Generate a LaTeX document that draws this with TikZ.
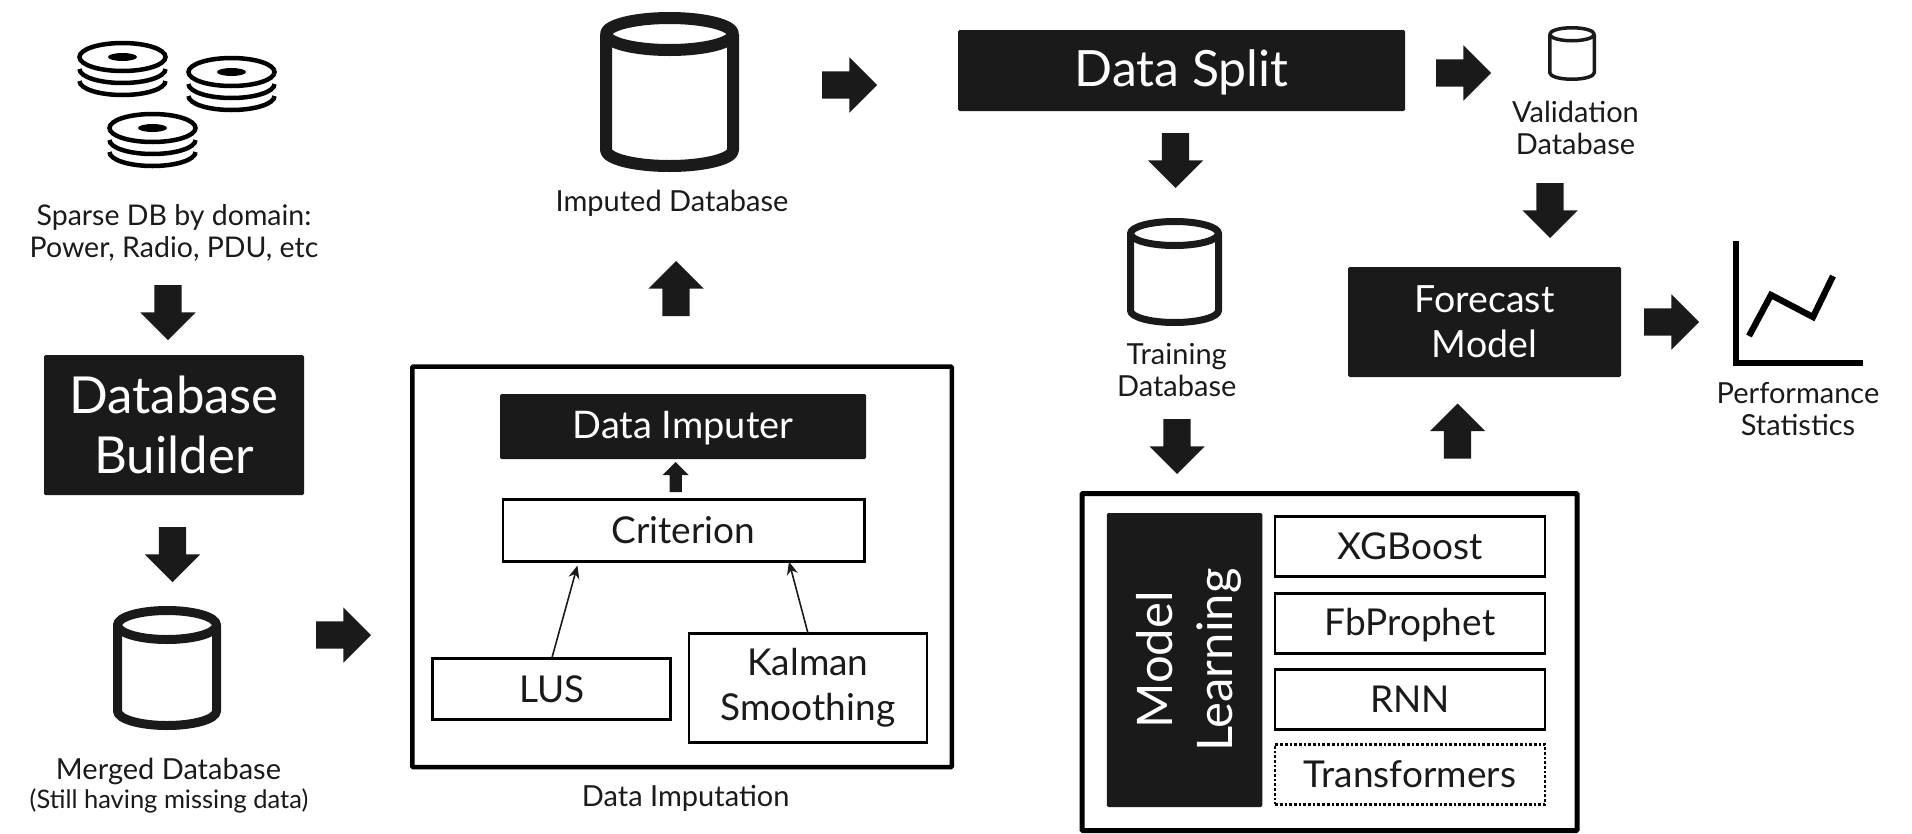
\documentclass[tikz,border=0pt]{standalone}
\usepackage{fontspec}
\setmainfont{Lato}
\usetikzlibrary{positioning, shapes.arrows, arrows.meta}

\definecolor{inkDark}{HTML}{1A1A1A}

% cylinder: centre x, top y, width, height, line width, ellipse radius
\newcommand{\dbCyl}[6]{
    \pgfmathsetmacro{\cylL}{#1-#3/2+#5/2}
    \pgfmathsetmacro{\cylR}{#1+#3/2-#5/2}
    \pgfmathsetmacro{\cylT}{#2+#5/2+#6}
    \pgfmathsetmacro{\cylB}{#2+#4-#5/2-#6}
    \pgfmathsetmacro{\cylX}{#3/2-#5/2}
    \draw[line width=#5pt, inkDark, line join=round] (#1,\cylT) ellipse[x radius=\cylX pt, y radius=#6pt];
    \draw[line width=#5pt, inkDark, line join=round] (\cylL,\cylT) -- (\cylL,\cylB)
        arc[start angle=180, end angle=360, x radius=\cylX pt, y radius=#6pt] -- (\cylR,\cylT);
}

\begin{document}
\begin{tikzpicture}[
    x=1pt, y=-1pt,
    blackBox/.style={fill=inkDark, text=white, align=center, inner sep=0pt, outer sep=0pt, rounded corners=1.5pt},
    whiteBox/.style={draw=black, line width=2.7pt, text=inkDark, align=center, inner sep=0pt, outer sep=0pt, font=\fontsize{37}{45}\selectfont},
    frameBox/.style={draw=black, line width=4.5pt, rounded corners=1pt, inner sep=0pt, outer sep=0pt},
    labelText/.style={text=inkDark, align=center, inner sep=0pt, font=\fontsize{29}{32}\selectfont},
    blockArrow/.style={single arrow, fill=inkDark, inner xsep=0pt, inner ysep=13.5pt, outer sep=0pt,
        single arrow head extend=14pt, single arrow tip angle=90, single arrow head indent=0pt,
        minimum height=55pt, anchor=tail},
    smallArrow/.style={single arrow, fill=inkDark, inner xsep=0pt, inner ysep=6pt, outer sep=0pt,
        single arrow head extend=7pt, single arrow tip angle=90, single arrow head indent=0pt,
        minimum height=30pt, anchor=tail},
    thinLine/.style={line width=1.6pt, inkDark, -{Stealth[length=13pt, width=11pt]}},
    diskStack/.pic={
        \draw[line width=4.5pt] (0,0) ellipse[x radius=43pt, y radius=14pt];
        \fill (0,0) ellipse[x radius=14.5pt, y radius=4pt];
        \draw[line width=4.5pt] (-43,0) ++(0,12) arc[start angle=180, end angle=360, x radius=43pt, y radius=14pt];
        \draw[line width=4.5pt] (-43,0) ++(0,24) arc[start angle=180, end angle=360, x radius=43pt, y radius=14pt];
    },
]
    \useasboundingbox (0,0) rectangle (1912,833);

    % 1. left column
    \pic at (122.5,57) {diskStack};
    \pic at (231.5,72) {diskStack};
    \pic at (152.5,128) {diskStack};
    \node[labelText, font=\fontsize{28.5}{32}\selectfont] (sparseLbl) at (174,233) {Sparse DB by domain:\\Power, Radio, PDU, etc};
    \node[blockArrow, rotate=-90] (arrSparse) at (168,285) {};
    \node[blackBox, minimum width=260pt, minimum height=140pt, font=\fontsize{51}{60}\selectfont] (dbBuilder) at (174,425) {Database\\Builder};
    \node[blockArrow, rotate=-90] (arrBuilder) at (172.5,527) {};
    \dbCyl{167}{606}{108}{124}{9}{14.5}
    \node[labelText] (mergedLbl) at (168.5,771) {Merged Database};
    \node[labelText, font=\fontsize{25.5}{28}\selectfont] (mergedSub) at (169,801) {(Still having missing data)};
    \node[blockArrow] (arrMerged) at (316,635) {};

    % 2. imputation block
    \node[frameBox, minimum width=539.5pt, minimum height=400.5pt] (impFrame) at (682,566.9) {};
    \node[blackBox, minimum width=366pt, minimum height=65pt, text height=27pt, text depth=3pt, font=\fontsize{38}{45}\selectfont] (imputer) at (683,426.5) {Data Imputer};
    \node[whiteBox, minimum width=361.3pt, minimum height=62.3pt] (criterion) at (683.5,530.5) {Criterion};
    \node[whiteBox, minimum width=238pt, minimum height=61.3pt] (lus) at (551.8,689) {LUS};
    \node[whiteBox, minimum width=238pt, minimum height=109.3pt] (kalman) at (808,688) {Kalman\\Smoothing};
    \node[smallArrow, rotate=90] (arrCrit) at (675.7,492) {};
    \draw[thinLine, shorten >=4pt] (lus.north) -- ([xshift=-105pt]criterion.south);
    \draw[thinLine] (kalman.north) -- ([xshift=105.5pt]criterion.south);
    \node[labelText] (impLbl) at (685.7,798) {Data Imputation};
    \node[blockArrow, rotate=90] (arrImp) at (676,316) {};

    % 3. imputed database and split
    \dbCyl{669.5}{12}{139}{160}{12}{16}
    \node[labelText] (imputedLbl) at (672,203) {Imputed Database};
    \node[blockArrow] (arrImputed) at (822,85) {};
    \node[blackBox, minimum width=447pt, minimum height=81pt, text height=36pt, text depth=4pt, font=\fontsize{50}{60}\selectfont] (dataSplit) at (1181.5,70.5) {Data Split};
    \node[blockArrow] (arrSplit) at (1436,73) {};
    \node[blockArrow, rotate=-90] (arrTrain) at (1175.5,133) {};
    \dbCyl{1174.5}{218}{95}{108}{7}{12}
    \node[labelText] (trainLbl) at (1176.7,370) {Training\\Database};
    \node[blockArrow, rotate=-90] (arrLearn) at (1177,419) {};

    % 4. model learning block
    \node[frameBox, line width=5pt, minimum width=495pt, minimum height=337pt] (mlFrame) at (1329.5,662) {};
    \node[blackBox, minimum width=155.5pt, minimum height=294pt] (mlBlack) at (1184.7,660) {};
    \node[text=white, align=center, inner sep=0pt, rotate=90, font=\fontsize{49}{60}\selectfont] (mlText) at ([xshift=4pt]mlBlack.center) {Model\\Learning};
    \node[whiteBox, minimum width=269.8pt, minimum height=60.3pt] (xgb) at (1410,546.5) {XGBoost};
    \node[whiteBox, minimum width=269.8pt, minimum height=60.3pt, text height=27pt, text depth=3pt, below=16.5pt of xgb] (prophet) {FbProphet};
    \node[whiteBox, minimum width=269.8pt, minimum height=60.3pt, below=15.7pt of prophet] (rnn) {RNN};
    \node[whiteBox, dotted, minimum width=269.8pt, minimum height=60.3pt, below=14.7pt of rnn] (trans) {Transformers};
    \node[blockArrow, rotate=90] (arrModel) at (1457.5,458.5) {};

    % 5. validation, forecast, statistics
    \dbCyl{1572}{26}{48}{55}{3.5}{6.5}
    \node[labelText] (validLbl) at (1575.5,128) {Validation\\Database};
    \node[blockArrow, rotate=-90] (arrValid) at (1550,183) {};
    \node[blackBox, minimum width=273pt, minimum height=110pt, font=\fontsize{37.5}{45}\selectfont] (forecast) at (1484.5,322) {Forecast\\Model};
    \node[blockArrow] (arrForecast) at (1644,322) {};
    \draw[line width=6.3pt] (1736,241) -- (1736,362.8) -- (1863,362.8);
    \draw[line width=6.3pt, line join=miter] (1749,336) -- (1771,295) -- (1813,317) -- (1833,276);
    \node[labelText] (perfLbl) at (1798,409) {Performance\\Statistics};
\end{tikzpicture}
\end{document}
